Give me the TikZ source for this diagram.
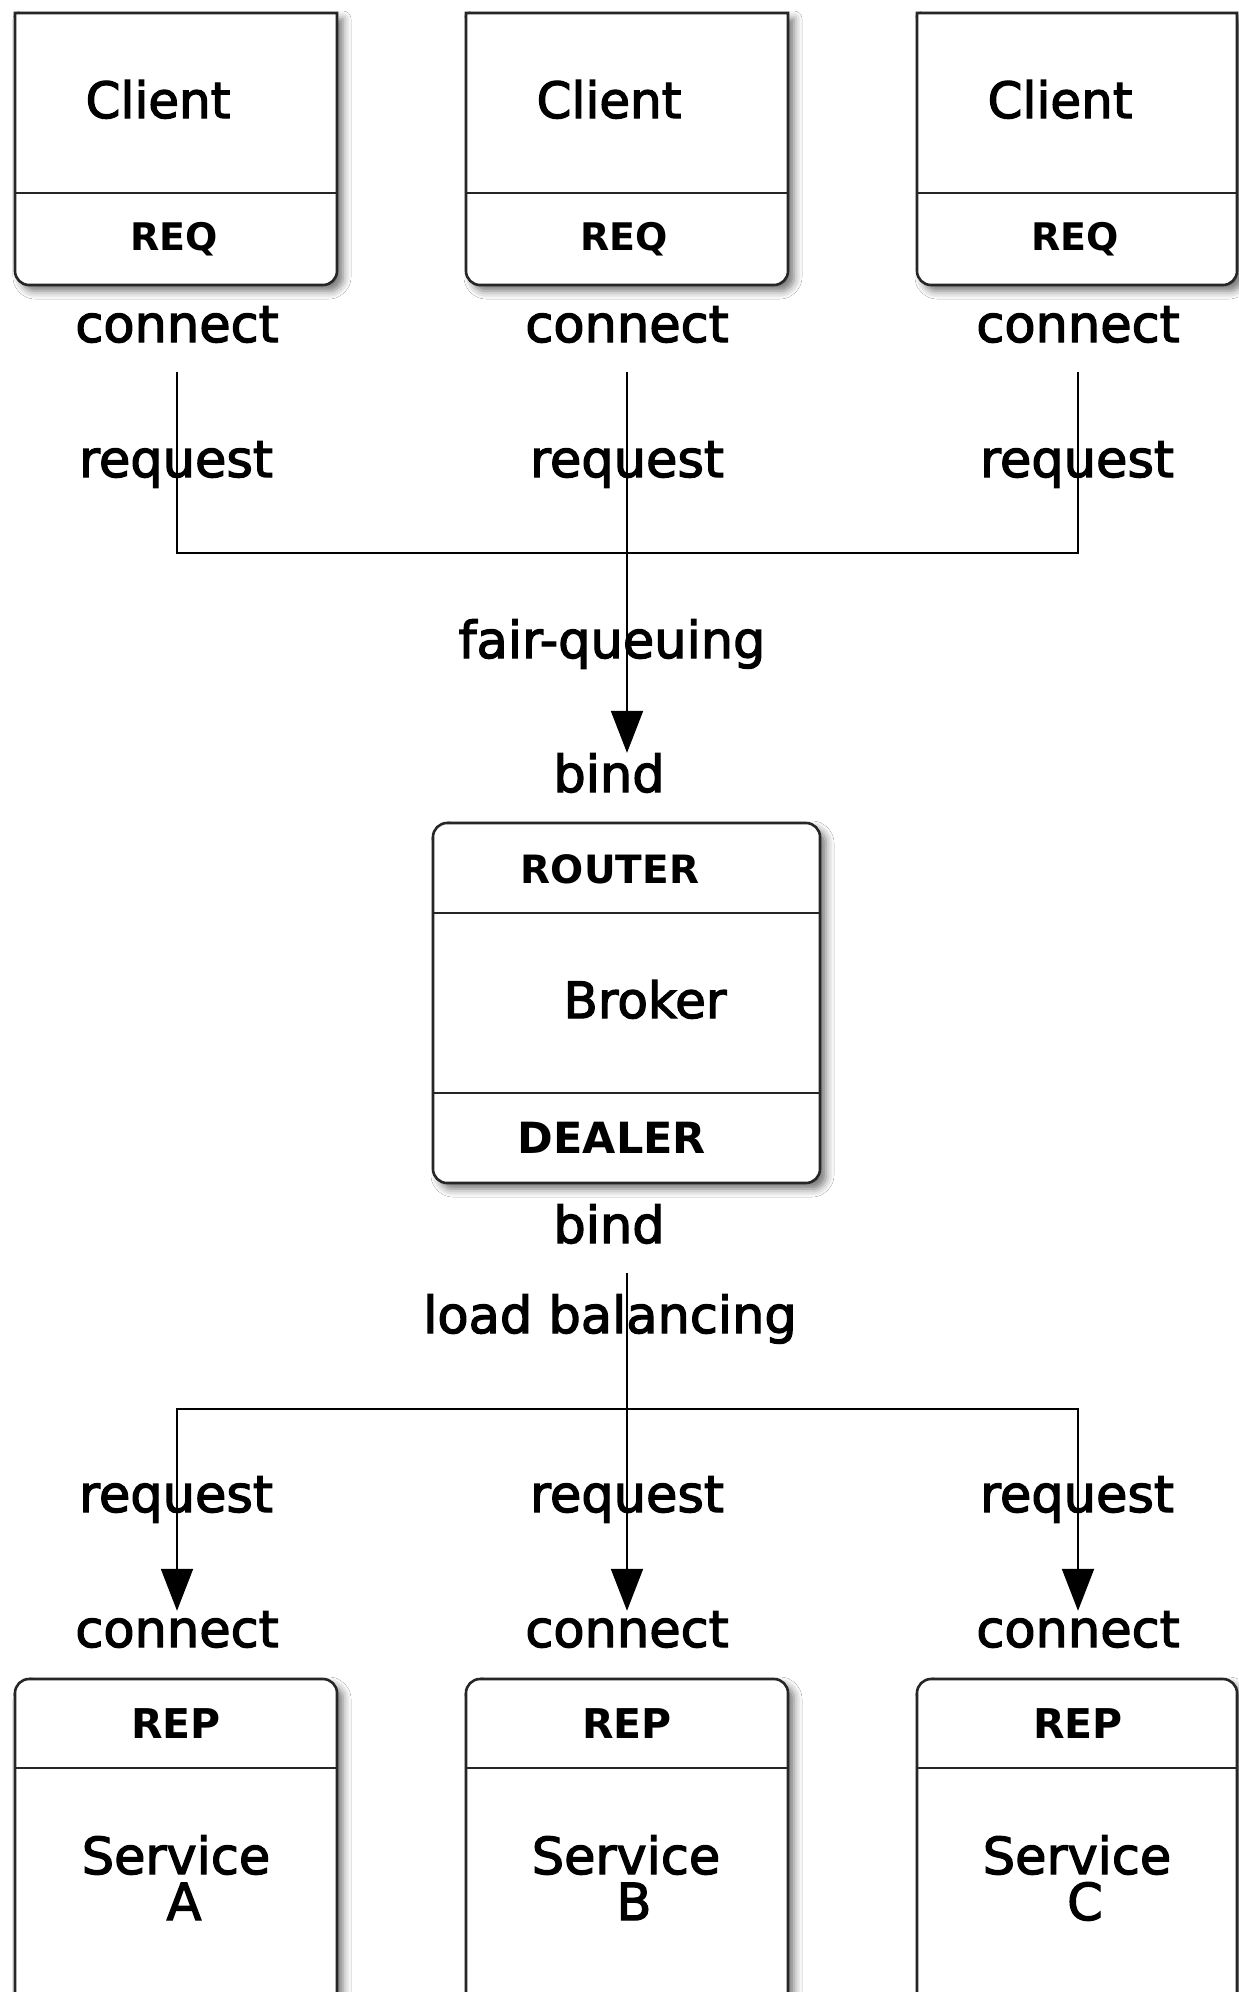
\documentclass[tikz,border=0pt]{standalone}
\usepackage{fontspec}
\setmainfont{DejaVu Sans}
\newfontfamily\labelfont{DejaVu Sans}[FakeBold=2.5]
\usetikzlibrary{arrows.meta,shadows.blur}

\tikzset{
  lbl/.style={anchor=base, inner sep=0pt, font=\labelfont\fontsize{25.5}{30}\selectfont},
  clientlbl/.style={anchor=base, inner sep=0pt, font=\labelfont\fontsize{25}{30}\selectfont},
  sock/.style={anchor=base, inner sep=0pt, font=\bfseries\fontsize{#1}{24}\selectfont},
  sock/.default=19.5,
  boxline/.style={line width=1.3pt, draw=black!85},
  boxshape/.style={boxline, fill=white, blur shadow={shadow xshift=3pt, shadow yshift=-3pt, shadow blur radius=4pt, shadow opacity=55}},
  conn/.style={line width=1pt, draw=black},
  arr/.style={conn, -{Triangle[length=21pt,width=16pt]}},
}

\begin{document}
\begin{tikzpicture}[x=0.5pt,y=-0.5pt]
\useasboundingbox[fill=white] (0,0) rectangle (1238,1992);

% ---- Client boxes (square top, rounded bottom)
\draw[boxshape] (15,13) -- (337,13) -- (337,271) arc (0:90:14) -- (29,285) arc (90:180:14) -- cycle;
\draw[boxshape] (466,13) -- (788,13) -- (788,271) arc (0:90:14) -- (480,285) arc (90:180:14) -- cycle;
\draw[boxshape] (917,13) -- (1237,13) -- (1237,271) arc (0:90:14) -- (931,285) arc (90:180:14) -- cycle;
\draw[boxline] (15,193) -- (337,193);
\draw[boxline] (466,193) -- (788,193);
\draw[boxline] (917,193) -- (1237,193);

\node[clientlbl] (cli1) at (158,118) {Client};
\node[clientlbl] (cli2) at (609,118) {Client};
\node[clientlbl] (cli3) at (1060,118) {Client};
\node[sock=19] (req1) at (174,250) {REQ};
\node[sock=19] (req2) at (624,250) {REQ};
\node[sock=19] (req3) at (1075,250) {REQ};

\node[lbl] (con1) at (177,342) {connect};
\node[lbl] (con2) at (627,342) {connect};
\node[lbl] (con3) at (1078,342) {connect};
\node[lbl] (rqt1) at (176,477) {request};
\node[lbl] (rqt2) at (627,477) {request};
\node[lbl] (rqt3) at (1077,477) {request};
\node[lbl] (fq) at (612,658) {fair-queuing};
\node[lbl] (bd1) at (609,792) {bind};

% ---- Broker
\draw[boxshape, rounded corners=7pt] (433,823) rectangle (820,1183);
\draw[boxline] (433,913) -- (820,913);
\draw[boxline] (433,1093) -- (820,1093);
\node[sock=19.5] (router) at (610,883) {ROUTER};
\node[clientlbl, font=\labelfont\fontsize{25}{30}\selectfont] (broker) at (645,1018) {Broker};
\node[sock=21.5] (dealer) at (612,1153) {DEALER};

\node[lbl] (bd2) at (609,1243) {bind};
\node[lbl] (lb) at (610,1333) {load balancing};

% ---- lower labels
\node[lbl] (rqb1) at (176,1512) {request};
\node[lbl] (rqb2) at (627,1512) {request};
\node[lbl] (rqb3) at (1077,1512) {request};
\node[lbl] (cnb1) at (177,1647) {connect};
\node[lbl] (cnb2) at (627,1647) {connect};
\node[lbl] (cnb3) at (1078,1647) {connect};

% ---- Service boxes (rounded top, open bottom)
\draw[boxshape] (15,2040) -- (15,1693) arc (180:270:14) -- (323,1679) arc (270:360:14) -- (337,2040) -- cycle;
\draw[boxshape] (466,2040) -- (466,1693) arc (180:270:14) -- (774,1679) arc (270:360:14) -- (788,2040) -- cycle;
\draw[boxshape] (917,2040) -- (917,1693) arc (180:270:14) -- (1223,1679) arc (270:360:14) -- (1237,2040) -- cycle;
\draw[boxline] (15,1768) -- (337,1768);
\draw[boxline] (466,1768) -- (788,1768);
\draw[boxline] (917,1768) -- (1237,1768);

\node[sock=20.5] (rep1) at (176,1738) {REP};
\node[sock=20.5] (rep2) at (627,1738) {REP};
\node[sock=20.5] (rep3) at (1078,1738) {REP};
\node[lbl] (sv1) at (176,1874) {Service};
\node[lbl] (sv2) at (626,1874) {Service};
\node[lbl] (sv3) at (1077,1874) {Service};
\node[lbl] (sva) at (184,1920) {A};
\node[lbl] (svb) at (634,1920) {B};
\node[lbl] (svc) at (1085,1920) {C};

% ---- connectors
\coordinate (t1) at (177,372);
\coordinate (t2) at (627,372);
\coordinate (t3) at (1078,372);
\coordinate (j1) at (627,553);
\draw[conn] (t1) |- (j1) -| (t3);
\draw[arr] (t2) -- (t2 |- bd1.north);

\coordinate (s0) at (627,1273);
\coordinate (j2) at (627,1409);
\draw[conn] (s0) -- (j2);
\draw[arr] (j2) -| (cnb1.north);
\draw[arr] (j2) -- (j2 |- cnb2.north);
\draw[arr] (j2) -| (cnb3.north);
\end{tikzpicture}
\end{document}
